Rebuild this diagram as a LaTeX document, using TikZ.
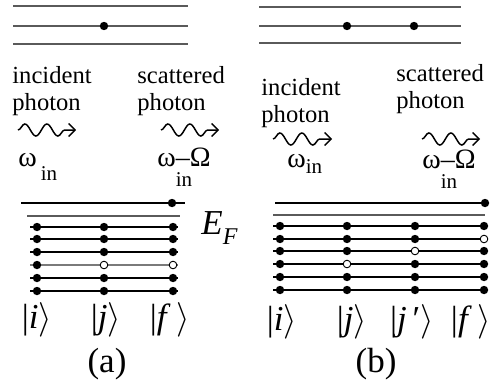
\documentclass[tikz,border=0pt]{standalone}
\usepackage{fontspec}
\setmainfont{Liberation Serif}
\usetikzlibrary{decorations.pathmorphing,arrows.meta}
\definecolor{levelgray}{HTML}{5A5A5A}
\definecolor{holegray}{HTML}{7A7A7A}
\tikzset{
  filled/.style={circle,fill=black,inner sep=0pt,minimum size=4.2pt},
  hole/.style={circle,draw=black,fill=white,line width=0.45pt,inner sep=0pt,minimum size=3.8pt},
  level/.style={line width=0.7pt},
  thicklevel/.style={line width=1.2pt},
  holelevel/.style={line width=0.7pt,draw=holegray},
  photon/.style={decorate,decoration={snake,amplitude=3pt,segment length=11pt,post length=4pt},
    -{Straight Barb[length=3.2pt,width=6.5pt,line width=0.7pt]},line width=0.75pt},
  label/.style={font=\fontsize{12.3}{13.5}\selectfont,inner sep=0pt,align=left},
  freq/.style={font=\fontsize{14}{14}\selectfont,inner sep=0pt,anchor=base west},
  ket/.style={font=\fontsize{17.5}{17.5}\selectfont,inner sep=0pt},
  panel/.style={font=\fontsize{17.5}{17.5}\selectfont,inner sep=0pt},
}
\newcommand{\subin}[1]{\raisebox{#1}{\fontsize{10.5}{10.5}\selectfont in}}

\begin{document}
\begin{tikzpicture}[x=0.5pt,y=-0.5pt]
\useasboundingbox (0,0) rectangle (490,391);
% (a) intermediate levels
\foreach \yy in {6,26,44}{%
  \draw[levelgray,level] (13,\yy) -- (188,\yy);
}
\node[filled] (atop) at (104,26) {};
% (a) photons
\node[label,anchor=base west] (ainc) at (12,110) {incident\\photon};
\node[label,anchor=base west] (asca) at (137,110) {scattered\\photon};
\coordinate (ainS) at (18,130);
\coordinate (ainE) at (76,130);
\coordinate (aoutS) at (161,130);
\coordinate (aoutE) at (219,130);
\draw[photon] (ainS) -- (ainE);
\draw[photon] (aoutS) -- (aoutE);
\node[freq] (awin) at (18,166) {ω\hspace{2pt}\subin{-7pt}};
\node[freq] (awout) at (157,166) {ω\rlap{\subin{-10pt}}–Ω};
% (a) electron levels
\draw[level] (21,203) -- (185,203);
\node[filled] (aup) at (172,203) {};
\draw[levelgray,level] (27,216) -- (180,216);
\foreach \yy/\sj/\sf/\ls [count=\r] in {227/filled/filled/thicklevel,
    239/filled/filled/level, 252/filled/filled/level, 265/hole/hole/holelevel,
    278/filled/filled/level, 291/filled/filled/level}{%
  \draw[\ls] (30,\yy) -- (178,\yy);
  \node[filled] (ai\r) at (37,\yy) {};
  \node[\sj] (aj\r) at (104,\yy) {};
  \node[\sf] (af\r) at (173,\yy) {};
}
\node[anchor=base west,inner sep=0pt,font=\fontsize{17.5}{17.5}\selectfont] (aef) at (201,234)
  {\textit{E}\raisebox{-5pt}{\fontsize{12}{12}\selectfont\textit{F}}};
\node[ket] (aketi) at (37,320) {|\textit{i}$\rangle$};
\node[ket] (aketj) at (106,320) {|\textit{j}$\rangle$};
\node[ket] (aketf) at (170,320) {|\textit{f}\,$\rangle$};
\node[panel] (alab) at (107,364) {(a)};

% (b) intermediate levels
\foreach \yy in {7,26,43}{%
  \draw[levelgray,level] (259,\yy) -- (461,\yy);
}
\node[filled] (btop1) at (347,26) {};
\node[filled] (btop2) at (414,26) {};
% (b) photons
\node[label,anchor=base west] (binc) at (261,122) {incident\\photon};
\node[label,anchor=base west] (bsca) at (396,108) {scattered\\photon};
\coordinate (binS) at (273,139);
\coordinate (binE) at (332,139);
\coordinate (boutS) at (422,139);
\coordinate (boutE) at (480,139);
\draw[photon] (binS) -- (binE);
\draw[photon] (boutS) -- (boutE);
\node[freq] (bwin) at (287,167) {ω\subin{-3pt}};
\node[freq] (bwout) at (422,168) {ω\rlap{\subin{-10pt}}–Ω};
% (b) electron levels
\draw[level] (275,203) -- (486,203);
\node[filled] (bup) at (485,203) {};
\draw[levelgray,level] (273,215) -- (485,215);
\foreach \yy/\sj/\sjj/\sf/\ls [count=\r] in {226/filled/filled/filled/thicklevel,
    239/filled/filled/hole/level, 251/filled/hole/filled/level, 264/hole/filled/filled/level,
    277/filled/filled/filled/level, 290/filled/filled/filled/level}{%
  \draw[\ls] (273,\yy) -- (487,\yy);
  \node[filled] (bi\r) at (280,\yy) {};
  \node[\sj] (bj\r) at (347,\yy) {};
  \node[\sjj] (bjj\r) at (415,\yy) {};
  \node[\sf] (bf\r) at (484,\yy) {};
}
\node[ket] (bketi) at (282,322) {|\textit{i}$\rangle$};
\node[ket] (bketj) at (352,322) {|\textit{j}$\rangle$};
\node[ket] (bketjj) at (412,322) {|\textit{j}\,′$\rangle$};
\node[ket] (bketf) at (471,322) {|\textit{f}\,$\rangle$};
\node[panel] (blab) at (376,364) {(b)};
\end{tikzpicture}
\end{document}
